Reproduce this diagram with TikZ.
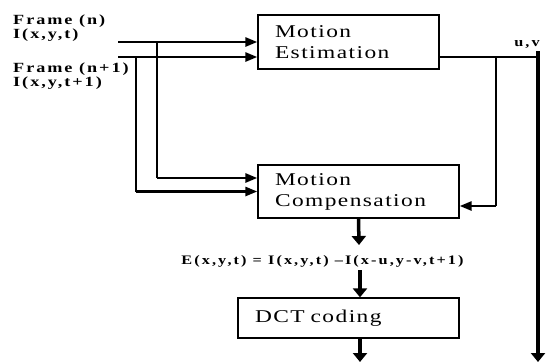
\documentclass[tikz,border=0pt]{standalone}
\usepackage{fontspec}
\setmainfont{Liberation Serif}
\newfontfamily\boxfont[FakeStretch=1.3,LetterSpace=8]{Liberation Serif}
\newfontfamily\lblfont[FakeStretch=1.25,LetterSpace=16]{Liberation Serif}
\newfontfamily\sidefont[FakeStretch=1.3,LetterSpace=14]{Liberation Serif}
\usetikzlibrary{arrows.meta}
\tikzset{
	block/.style={draw, line width=1.3pt, inner xsep=17pt, inner ysep=0pt, align=left, font=\boxfont\fontsize{18}{21}\selectfont},
	lbl/.style={inner sep=0pt, align=left, font=\lblfont\bfseries\fontsize{13}{12}\selectfont},
	sidelbl/.style={lbl, font=\sidefont\bfseries\fontsize{14}{12.5}\selectfont},
	feed/.style={line width=2.6pt, -{Triangle[length=12pt,width=9pt]}},
	drop/.style={line width=2pt},
	thinline/.style={line width=1.3pt},
	heavy/.style={line width=3.5pt, -{Triangle[length=9pt,width=14pt]}},
}

\begin{document}
\begin{tikzpicture}[x=1pt,y=-1pt]
	\useasboundingbox (0,0) rectangle (548,362);

	%blocks
	\node[block, text width=147pt, minimum height=54pt] (me) at (348.5,42) {Motion\\Estimation};
	\node[block, text width=167pt, minimum height=53pt] (mc) at (358.5,191.5) {Motion\\Compensation};
	\node[block, text width=187pt, minimum height=40pt] (dct) at (348.5,318) {DCT coding};

	%captions
	\node[sidelbl, anchor=north west] (fn) at (13,14.5) {Frame (n)\\I(x,y,t)};
	\node[sidelbl, anchor=north west] (fn1) at (13,62.5) {Frame (n+1)\\I(x,y,t+1)};
	\node[lbl] (eq) at (322.5,261) {E(x,y,t) = I(x,y,t) –I(x-u,y-v,t+1)};
	\node[lbl] (uv) at (527,45) {u,v};

	%free ends
	\coordinate (in1) at (118,42);		%frame n
	\coordinate (in2) at (118,57);		%frame n+1
	\coordinate (b1) at (157,42);
	\coordinate (b2) at (136,57);
	\coordinate (mcin1) at ([yshift=13.5pt]mc.west);
	\coordinate (mcin2) at (mc.west);
	\coordinate (meout) at ([yshift=-15pt]me.east);
	\coordinate (mcin3) at ([yshift=-14.5pt]mc.east);
	\coordinate (tap) at (496,57);
	\coordinate (mvec) at (538,57);
	\coordinate (mvtop) at (538,51);
	\coordinate (mvend) at (538,362);
	\coordinate (eqtop) at (359,245);
	\coordinate (eqbot) at (360,270);
	\coordinate (dctend) at (360,362);

	%inputs
	\draw[feed] (in1) -- (in1 -| me.west);
	\draw[feed] (in2) -- (in2 -| me.west);
	\draw[drop] (b1) -- (b1 |- mcin1);
	\draw[drop] (b2) -- (b2 |- mcin2);
	\draw[feed] (b1 |- mcin1) -- (mcin1);
	\draw[feed] (b2 |- mcin2) -- (mcin2);

	%motion vectors
	\draw[thinline] (meout) -- (mvec);
	\draw[heavy] (mvtop) -- (mvend);
	\draw[thinline] (tap) -- (tap |- mcin3);
	\draw[feed] (tap |- mcin3) -- (mcin3);

	%down the chain
	\draw[heavy] (mc.south) -- (eqtop);
	\draw[heavy] (eqbot) -- (eqbot |- dct.north);
	\draw[heavy] (eqbot |- dct.south) -- (dctend);
\end{tikzpicture}
\end{document}
